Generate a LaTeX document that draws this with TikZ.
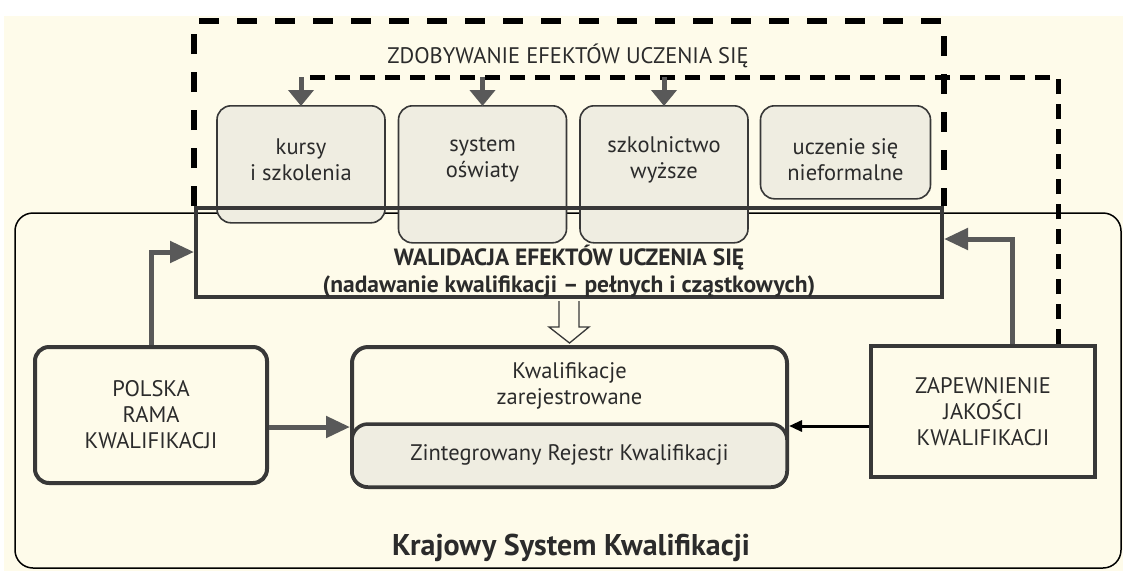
\documentclass[tikz,border=0pt]{standalone}
\usepackage{fontspec}
\setmainfont{PT Sans}
\usetikzlibrary{arrows.meta,calc}

\definecolor{tlo}{HTML}{FEFBEA}
\definecolor{szary}{HTML}{EFEDE1}
\definecolor{ramka}{HTML}{383838}
\definecolor{strz}{HTML}{595959}
\definecolor{tekst}{HTML}{2B2B2B}

\tikzset{
  pole/.style={draw=ramka, line width=1.6pt, rounded corners=14pt, fill=szary, minimum width=168pt, inner sep=0pt, anchor=north},
  gruba/.style={draw=ramka, line width=4pt, inner sep=0pt},
  napis/.style={text=tekst, align=center, inner sep=0pt, font=\fontsize{22.5}{26}\selectfont},
  tlusty/.style={napis, font=\bfseries\fontsize{23.5}{27}\selectfont},
  strzalka/.style={draw=strz, line width=5pt, -{Triangle[length=24pt,width=21pt]}},
  mala/.style={draw=strz, line width=5pt, -{Triangle[length=16pt,width=25pt]}},
  kreski/.style={line width=5pt, dash pattern=on 15pt off 10pt},
}

\begin{document}
\begin{tikzpicture}[x=1pt, y=-1pt]
\fill[white] (0,0) rectangle (1123,571);
\fill[tlo] (4,16) rectangle (1123,571);
\useasboundingbox (0,0) rectangle (1123,571);

% Krajowy System Kwalifikacji
\node[draw=black, line width=1.5pt, rounded corners=18pt, minimum width=1106pt, minimum height=355pt, inner sep=0pt] (ksk) at (568,390.5) {};
\node[napis, font=\bfseries\fontsize{30}{34}\selectfont, anchor=base] (kskT) at (571,555) {Krajowy System Kwalifikacji};

% zdobywanie efektow
\node[napis, anchor=base] (zdob) at (568,63) {ZDOBYWANIE EFEKTÓW UCZENIA SIĘ};

\node[pole, minimum height=117pt] (kursy) at (301,105) {};
\node[pole, minimum height=137pt] (system) at (482.5,105) {};
\node[pole, minimum height=137pt] (szkol) at (664,105) {};
\node[pole, minimum height=93pt, minimum width=170pt] (nieform) at (845.5,105) {};
\node[napis] (kursyT) at (301,160) {kursy\\i szkolenia};
\node[napis] (systemT) at (482.5,160) {system\\oświaty};
\node[napis] (szkolT) at (664,160) {szkolnictwo\\wyższe};
\node[napis] (nieformT) at (845.5,160) {uczenie się\\nieformalne};

% walidacja
\node[gruba, minimum width=746pt, minimum height=89pt] (walid) at (569,252.5) {};
\node[tlusty] (walidT) at (569,271.5) {WALIDACJA EFEKTÓW UCZENIA SIĘ\\(nadawanie kwalifikacji -- pełnych i cząstkowych)};

\draw[line width=5.5pt, dash pattern=on 20pt off 18pt] (walid.north west) -- ++(0,-185) -| (walid.north east);

% dolne pola
\node[gruba, napis, rounded corners=14pt, minimum width=232pt, minimum height=136pt] (prk) at (151,415) {POLSKA\\RAMA\\KWALIFIKACJI};
\node[gruba, rounded corners=16pt, fill=tlo, minimum width=435pt, minimum height=140pt] (kwal) at (569.5,417) {};
\node[gruba, line width=3.5pt, rounded corners=16pt, fill=szary, minimum width=435pt, minimum height=63pt] (zrk) at (569.5,455.5) {};
\node[napis] (kwalT) at (569.5,386) {Kwalifikacje\\zarejestrowane};
\node[napis, anchor=base] (zrkT) at (569.5,460) {Zintegrowany Rejestr Kwalifikacji};
\node[gruba, napis, minimum width=224pt, minimum height=131pt] (zap) at (983,411.5) {ZAPEWNIENIE\\JAKOŚCI\\KWALIFIKACJI};

% strzalki
\draw[strzalka] (prk.north) |- (walid.west |- 0,252);
\draw[strzalka] (prk.east |- 0,427) -- (kwal.west |- 0,427);
\draw[strzalka] (zap.north -| 1012,0) |- (walid.east |- 0,239);
\draw[line width=3pt, draw=black, -{Triangle[length=13pt,width=11pt]}] (zap.west |- 0,426) -- (kwal.east |- 0,426);
\draw[ramka, fill=tlo, line width=1.3pt] ($(walid.south)+(-10,2)$) -- ($(walid.south)+(-10,28)$) -- ++(-10,0) -- ($(kwal.north)+(0,-2)$) -- ($(walid.south)+(20,28)$) -- ++(-10,0) -- ($(walid.south)+(10,2)$);

% sprzezenie zwrotne
\draw[kreski] (zap.north -| 1058,0) |- (kursy.north |- 0,77);
\draw[mala] (kursy.north |- 0,77) -- ([yshift=-1pt]kursy.north);
\draw[mala] (system.north |- 0,77) -- ([yshift=-1pt]system.north);
\draw[mala] (szkol.north |- 0,77) -- ([yshift=-1pt]szkol.north);
\end{tikzpicture}
\end{document}
